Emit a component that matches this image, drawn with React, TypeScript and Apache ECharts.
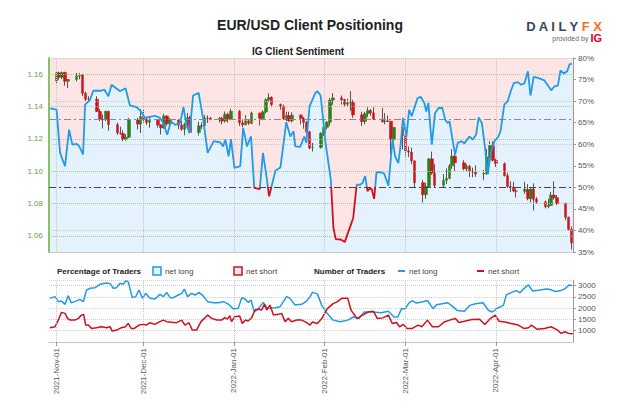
import React, { useEffect, useRef } from 'react';
import * as echarts from 'echarts';

// ---------- data ----------
// EUR/USD daily candles: [date, open, close, low, high]
const candles: [string, number, number, number, number][] = [
  ['2021-11-01', 1.1558, 1.1608, 1.1545, 1.1617], ['2021-11-02', 1.1608, 1.1581, 1.1565, 1.1616],
  ['2021-11-03', 1.1581, 1.1610, 1.1570, 1.1616], ['2021-11-04', 1.1610, 1.1556, 1.1529, 1.1615],
  ['2021-11-05', 1.1556, 1.1567, 1.1514, 1.1570], ['2021-11-08', 1.1567, 1.1588, 1.1555, 1.1608],
  ['2021-11-09', 1.1588, 1.1594, 1.1568, 1.1608], ['2021-11-10', 1.1594, 1.1481, 1.1464, 1.1600],
  ['2021-11-11', 1.1481, 1.1445, 1.1433, 1.1492], ['2021-11-12', 1.1445, 1.1445, 1.1432, 1.1464],
  ['2021-11-15', 1.1445, 1.1369, 1.1366, 1.1464], ['2021-11-16', 1.1369, 1.1320, 1.1310, 1.1385],
  ['2021-11-17', 1.1320, 1.1319, 1.1264, 1.1350], ['2021-11-18', 1.1319, 1.1370, 1.1310, 1.1374],
  ['2021-11-19', 1.1370, 1.1288, 1.1250, 1.1374], ['2021-11-22', 1.1288, 1.1236, 1.1225, 1.1300],
  ['2021-11-23', 1.1236, 1.1233, 1.1226, 1.1275], ['2021-11-24', 1.1233, 1.1197, 1.1186, 1.1253],
  ['2021-11-25', 1.1197, 1.1210, 1.1187, 1.1229], ['2021-11-26', 1.1210, 1.1317, 1.1204, 1.1330],
  ['2021-11-29', 1.1317, 1.1291, 1.1258, 1.1330], ['2021-11-30', 1.1291, 1.1338, 1.1236, 1.1383],
  ['2021-12-01', 1.1338, 1.1321, 1.1300, 1.1382], ['2021-12-02', 1.1321, 1.1302, 1.1285, 1.1336],
  ['2021-12-03', 1.1302, 1.1315, 1.1269, 1.1330], ['2021-12-06', 1.1315, 1.1285, 1.1270, 1.1320],
  ['2021-12-07', 1.1285, 1.1268, 1.1227, 1.1291], ['2021-12-08', 1.1268, 1.1341, 1.1262, 1.1355],
  ['2021-12-09', 1.1341, 1.1293, 1.1281, 1.1346], ['2021-12-10', 1.1293, 1.1316, 1.1262, 1.1330],
  ['2021-12-13', 1.1316, 1.1285, 1.1260, 1.1320], ['2021-12-14', 1.1285, 1.1259, 1.1250, 1.1311],
  ['2021-12-15', 1.1259, 1.1289, 1.1222, 1.1300], ['2021-12-16', 1.1289, 1.1330, 1.1280, 1.1360],
  ['2021-12-17', 1.1330, 1.1240, 1.1235, 1.1342], ['2021-12-20', 1.1240, 1.1281, 1.1221, 1.1306],
  ['2021-12-21', 1.1281, 1.1280, 1.1262, 1.1301], ['2021-12-22', 1.1280, 1.1329, 1.1270, 1.1347],
  ['2021-12-23', 1.1329, 1.1327, 1.1298, 1.1345], ['2021-12-24', 1.1327, 1.1320, 1.1315, 1.1335],
  ['2021-12-27', 1.1320, 1.1327, 1.1300, 1.1336], ['2021-12-28', 1.1327, 1.1310, 1.1289, 1.1337],
  ['2021-12-29', 1.1310, 1.1351, 1.1300, 1.1369], ['2021-12-30', 1.1351, 1.1323, 1.1300, 1.1362],
  ['2021-12-31', 1.1323, 1.1370, 1.1315, 1.1386],
  ['2022-01-03', 1.1370, 1.1299, 1.1280, 1.1378], ['2022-01-04', 1.1299, 1.1286, 1.1272, 1.1320],
  ['2022-01-05', 1.1286, 1.1311, 1.1285, 1.1346], ['2022-01-06', 1.1311, 1.1296, 1.1286, 1.1320],
  ['2022-01-07', 1.1296, 1.1360, 1.1290, 1.1368], ['2022-01-10', 1.1360, 1.1326, 1.1283, 1.1362],
  ['2022-01-11', 1.1326, 1.1367, 1.1315, 1.1375], ['2022-01-12', 1.1367, 1.1442, 1.1357, 1.1450],
  ['2022-01-13', 1.1442, 1.1456, 1.1430, 1.1482], ['2022-01-14', 1.1456, 1.1412, 1.1395, 1.1463],
  ['2022-01-17', 1.1412, 1.1400, 1.1380, 1.1418], ['2022-01-18', 1.1400, 1.1325, 1.1318, 1.1412],
  ['2022-01-19', 1.1325, 1.1344, 1.1310, 1.1367], ['2022-01-20', 1.1344, 1.1311, 1.1305, 1.1368],
  ['2022-01-21', 1.1311, 1.1346, 1.1301, 1.1364], ['2022-01-24', 1.1346, 1.1326, 1.1290, 1.1352],
  ['2022-01-25', 1.1326, 1.1302, 1.1262, 1.1335], ['2022-01-26', 1.1302, 1.1243, 1.1235, 1.1310],
  ['2022-01-27', 1.1243, 1.1144, 1.1135, 1.1250], ['2022-01-28', 1.1144, 1.1146, 1.1121, 1.1175],
  ['2022-01-31', 1.1146, 1.1235, 1.1140, 1.1240],
  ['2022-02-01', 1.1235, 1.1271, 1.1219, 1.1279], ['2022-02-02', 1.1271, 1.1303, 1.1258, 1.1310],
  ['2022-02-03', 1.1303, 1.1440, 1.1280, 1.1452], ['2022-02-04', 1.1440, 1.1453, 1.1410, 1.1483],
  ['2022-02-07', 1.1453, 1.1442, 1.1412, 1.1468], ['2022-02-08', 1.1442, 1.1414, 1.1401, 1.1448],
  ['2022-02-09', 1.1414, 1.1424, 1.1400, 1.1448], ['2022-02-10', 1.1424, 1.1425, 1.1374, 1.1495],
  ['2022-02-11', 1.1425, 1.1348, 1.1330, 1.1441], ['2022-02-14', 1.1348, 1.1307, 1.1280, 1.1368],
  ['2022-02-15', 1.1307, 1.1356, 1.1290, 1.1367], ['2022-02-16', 1.1356, 1.1375, 1.1335, 1.1395],
  ['2022-02-17', 1.1375, 1.1361, 1.1343, 1.1384], ['2022-02-18', 1.1361, 1.1322, 1.1316, 1.1395],
  ['2022-02-21', 1.1322, 1.1307, 1.1300, 1.1391], ['2022-02-22', 1.1307, 1.1310, 1.1290, 1.1359],
  ['2022-02-23', 1.1310, 1.1309, 1.1305, 1.1344], ['2022-02-24', 1.1309, 1.1195, 1.1106, 1.1274],
  ['2022-02-25', 1.1195, 1.1270, 1.1183, 1.1274], ['2022-02-28', 1.1270, 1.1220, 1.1134, 1.1245],
  ['2022-03-01', 1.1220, 1.1125, 1.1090, 1.1233], ['2022-03-02', 1.1125, 1.1118, 1.1088, 1.1153],
  ['2022-03-03', 1.1118, 1.1064, 1.1043, 1.1145], ['2022-03-04', 1.1064, 1.0929, 1.0900, 1.1065],
  ['2022-03-07', 1.0929, 1.0855, 1.0806, 1.0945], ['2022-03-08', 1.0855, 1.0905, 1.0830, 1.0927],
  ['2022-03-09', 1.0905, 1.1076, 1.0900, 1.1081], ['2022-03-10', 1.1076, 1.0988, 1.0977, 1.1121],
  ['2022-03-11', 1.0988, 1.0912, 1.0900, 1.1043], ['2022-03-14', 1.0912, 1.0943, 1.0901, 1.0982],
  ['2022-03-15', 1.0943, 1.0956, 1.0920, 1.1017], ['2022-03-16', 1.0956, 1.1033, 1.0950, 1.1043],
  ['2022-03-17', 1.1033, 1.1093, 1.1015, 1.1137], ['2022-03-18', 1.1093, 1.1052, 1.1002, 1.1113],
  ['2022-03-21', 1.1052, 1.1015, 1.1005, 1.1068], ['2022-03-22', 1.1015, 1.1030, 1.1000, 1.1045],
  ['2022-03-23', 1.1030, 1.1000, 1.0964, 1.1040], ['2022-03-24', 1.1000, 1.0995, 1.0962, 1.1022],
  ['2022-03-25', 1.0995, 1.0983, 1.0965, 1.1036], ['2022-03-28', 1.0983, 1.0985, 1.0944, 1.1008],
  ['2022-03-29', 1.0985, 1.1088, 1.0980, 1.1137], ['2022-03-30', 1.1088, 1.1158, 1.1080, 1.1185],
  ['2022-03-31', 1.1158, 1.1067, 1.1061, 1.1184],
  ['2022-04-01', 1.1067, 1.1046, 1.1026, 1.1077], ['2022-04-04', 1.1046, 1.0972, 1.0968, 1.1054],
  ['2022-04-05', 1.0972, 1.0904, 1.0899, 1.0990], ['2022-04-06', 1.0904, 1.0902, 1.0871, 1.0937],
  ['2022-04-07', 1.0902, 1.0878, 1.0870, 1.0935], ['2022-04-08', 1.0878, 1.0876, 1.0837, 1.0893],
  ['2022-04-11', 1.0876, 1.0887, 1.0860, 1.0935], ['2022-04-12', 1.0887, 1.0830, 1.0820, 1.0920],
  ['2022-04-13', 1.0830, 1.0890, 1.0808, 1.0895], ['2022-04-14', 1.0890, 1.0826, 1.0757, 1.0925],
  ['2022-04-15', 1.0826, 1.0810, 1.0800, 1.0840], ['2022-04-18', 1.0810, 1.0780, 1.0770, 1.0818],
  ['2022-04-19', 1.0780, 1.0788, 1.0770, 1.0828], ['2022-04-20', 1.0788, 1.0852, 1.0785, 1.0872],
  ['2022-04-21', 1.0852, 1.0836, 1.0824, 1.0936], ['2022-04-22', 1.0836, 1.0799, 1.0790, 1.0852],
  ['2022-04-25', 1.0799, 1.0715, 1.0697, 1.0806], ['2022-04-26', 1.0715, 1.0640, 1.0634, 1.0719],
  ['2022-04-27', 1.0640, 1.0556, 1.0515, 1.0658],
];

// % of traders net long: [days since 2021-11-01, percent]
const netLongPct: [number, number][] = [
  [-2.1, 68.3], [0.1, 68.0], [1.3, 58.0], [3.0, 54.9], [4.4, 63.4], [5.5, 59.9], [7.0, 60.1], [7.9, 59.5],
  [9.2, 57.6], [9.9, 69.2], [11.6, 70.3], [12.7, 72.4], [15.5, 72.4], [16.5, 72.7], [17.9, 71.1], [19.0, 73.8],
  [21.9, 72.3], [23.8, 73.0], [25.3, 69.0], [27.6, 68.6], [29.1, 67.6], [30.5, 66.1], [31.6, 66.3], [33.9, 66.6],
  [35.6, 66.1], [36.8, 64.9], [38.1, 62.2], [39.4, 65.3], [40.8, 64.5], [42.5, 64.9], [43.7, 68.6], [44.7, 64.5],
  [45.8, 62.6], [47.0, 71.3], [48.9, 71.9], [50.4, 66.1], [52.0, 58.0], [54.1, 60.7], [56.4, 60.4], [57.3, 59.5],
  [58.1, 61.1], [59.2, 57.2], [60.0, 61.2], [61.2, 54.5], [63.2, 54.9], [64.2, 63.8], [65.5, 59.5], [66.9, 61.8],
  [68.0, 49.9], [69.9, 49.6], [71.0, 58.0], [72.2, 52.6], [73.1, 47.9], [75.3, 53.9], [77.0, 54.6], [79.0, 65.1],
  [80.4, 61.8], [81.5, 63.0], [82.1, 59.5], [83.8, 59.4], [85.2, 61.8], [85.9, 60.3], [87.0, 68.8], [89.0, 71.9],
  [89.7, 72.3], [90.8, 71.3], [92.5, 60.3], [94.3, 51.8], [95.2, 40.6], [96.0, 38.0], [97.7, 37.9], [99.1, 37.3],
  [100.6, 40.2], [102.0, 42.9], [103.2, 50.6], [104.4, 50.6], [105.2, 51.0], [106.1, 52.6], [106.9, 49.1], [107.8, 49.8],
  [108.4, 49.5], [109.2, 47.3], [110.0, 53.5], [111.4, 53.5], [112.6, 53.2], [114.1, 50.4], [115.5, 61.1], [116.4, 57.2],
  [117.5, 55.6], [118.3, 59.9], [119.1, 66.1], [120.3, 61.8], [121.2, 68.0], [122.1, 66.5], [124.1, 70.7], [125.2, 71.0],
  [126.4, 69.6], [127.1, 67.6], [127.8, 69.6], [129.0, 59.9], [130.1, 67.2], [131.3, 68.4], [132.6, 68.4], [133.6, 65.7],
  [134.4, 64.9], [135.1, 65.3], [136.2, 60.7], [137.0, 57.6], [137.9, 60.3], [139.1, 60.7], [140.2, 60.2], [141.9, 61.8],
  [143.1, 61.1], [144.2, 62.2], [145.1, 66.2], [146.2, 64.9], [147.3, 59.1], [148.2, 53.0], [149.4, 58.4], [150.5, 60.7],
  [151.9, 61.8], [152.6, 63.0], [153.9, 69.2], [155.1, 70.0], [156.3, 72.7], [157.2, 74.2], [158.5, 74.4], [159.7, 73.8],
  [160.8, 74.1], [162.0, 76.9], [162.9, 71.3], [164.0, 75.6], [165.4, 75.4], [167.7, 74.8], [170.0, 72.5], [171.1, 73.4],
  [172.3, 73.6], [173.2, 77.1], [174.3, 76.4], [175.5, 76.9], [176.3, 78.5], [177.1, 78.7],
];

// Number of traders net long: [days since 2021-11-01, count]
const tradersLong: [number, number][] = [
  [-2.2, 2436], [-0.4, 2512], [0.7, 2290], [1.8, 2316], [3.0, 2170], [4.1, 2556], [5.1, 2245], [6.4, 2290],
  [8.1, 2392], [9.3, 2290], [10.4, 2805], [11.6, 2880], [13.3, 2911], [15.0, 3058], [17.3, 3115], [18.5, 3089],
  [19.6, 2880], [20.7, 2911], [21.9, 3102], [23.0, 3058], [23.8, 3204], [24.7, 3178], [26.1, 2467], [27.3, 2512],
  [28.4, 2805], [29.6, 2436], [30.7, 2658], [32.2, 2436], [33.9, 2405], [35.6, 2614], [36.8, 2512], [37.9, 2703],
  [39.1, 2467], [40.2, 2467], [41.9, 2583], [43.1, 2658], [44.0, 2849], [45.1, 2512], [46.5, 2658], [47.7, 2583],
  [49.0, 2703], [50.2, 2583], [52.0, 2290], [54.0, 2245], [55.7, 2245], [57.4, 2290], [59.1, 2183], [60.8, 1961],
  [62.5, 1992], [63.7, 2467], [64.8, 2405], [66.0, 2259], [66.9, 2361], [68.0, 1846], [69.4, 1961], [71.1, 2259],
  [72.3, 2023], [73.4, 1992], [75.2, 2023], [76.9, 2068], [78.0, 2290], [79.1, 2512], [80.3, 2436], [82.0, 2139],
  [84.3, 2170], [86.0, 2316], [87.2, 2512], [88.0, 2700], [89.7, 2635], [91.2, 2125], [93.1, 1760], [95.1, 1470],
  [97.6, 1400], [100.1, 1470], [102.1, 1610], [104.0, 1540], [105.8, 1830], [108.4, 1830], [111.6, 1800], [114.1, 1860],
  [116.0, 1610], [117.3, 1610], [118.6, 1980], [119.9, 1980], [121.1, 2225], [122.3, 2340], [123.7, 2225], [125.6, 2270],
  [127.5, 2340], [129.4, 1980], [130.6, 2150], [132.6, 2200], [134.5, 2240], [135.7, 2125], [137.7, 1900], [140.2, 1860],
  [142.1, 2125], [144.0, 2200], [146.6, 2240], [148.5, 1900], [149.8, 1830], [151.7, 2010], [153.6, 2125], [154.6, 2590],
  [156.4, 2700], [158.1, 2780], [159.3, 2680], [160.5, 2855], [162.2, 3030], [163.6, 2765], [166.3, 2810], [168.2, 2855],
  [169.8, 2825], [171.4, 2740], [173.3, 2780], [174.9, 2880], [176.1, 3030], [177.3, 3000],
];

// Number of traders net short: [days since 2021-11-01, count]
const tradersShort: [number, number][] = [
  [-2.2, 1135], [-0.4, 1180], [0.7, 1473], [1.8, 1815], [3.0, 1770], [3.9, 1548], [4.7, 1473], [6.4, 1473],
  [7.6, 1548], [8.7, 1695], [9.4, 1726], [10.1, 1251], [11.0, 1251], [12.1, 1104], [13.8, 1135], [15.6, 1180],
  [17.3, 1135], [18.5, 1180], [19.2, 984], [20.7, 1029], [22.4, 1135], [23.8, 1180], [24.7, 1326], [25.7, 1104],
  [26.8, 1104], [28.4, 1251], [29.9, 1282], [31.0, 1251], [32.2, 1357], [33.9, 1282], [35.6, 1402], [36.8, 1473],
  [37.9, 1402], [39.6, 1371], [41.3, 1357], [43.1, 1473], [44.2, 1251], [45.6, 1357], [46.7, 1029], [48.2, 1029],
  [49.7, 1402], [50.9, 1548], [52.0, 1695], [53.4, 1548], [55.1, 1473], [56.8, 1473], [57.9, 1579], [58.8, 1517],
  [59.6, 1668], [60.2, 1402], [61.3, 1624], [63.0, 1650], [63.9, 1326], [65.0, 1473], [65.9, 1428], [67.1, 1579],
  [68.3, 1917], [69.4, 1961], [70.5, 1917], [71.5, 2170], [72.3, 1917], [73.4, 2139], [74.6, 1695], [76.3, 1726],
  [77.4, 1770], [78.6, 1402], [79.7, 1548], [80.8, 1402], [82.6, 1473], [84.3, 1473], [85.4, 1402], [87.2, 1251],
  [88.0, 1390], [89.7, 1320], [91.2, 1540], [93.1, 1980], [95.1, 2200], [96.3, 2270], [98.2, 2445], [100.1, 2445],
  [101.3, 1900], [103.3, 1540], [105.2, 1690], [107.1, 1830], [109.0, 1860], [110.3, 1540], [112.2, 1570], [114.1, 1690],
  [115.4, 1320], [116.9, 1365], [117.9, 1175], [119.2, 1280], [120.5, 1100], [122.3, 1100], [124.3, 1250], [125.6, 1175],
  [127.5, 1470], [129.2, 1175], [131.3, 1175], [133.3, 1390], [135.1, 1470], [137.1, 1540], [138.3, 1365], [140.2, 1420],
  [142.8, 1500], [145.4, 1510], [147.2, 1280], [149.1, 1540], [150.8, 1690], [152.1, 1420], [154.2, 1390], [156.2, 1320],
  [158.7, 1250], [160.6, 1100], [162.2, 1130], [163.2, 1250], [165.1, 1070], [167.7, 1100], [170.0, 1175], [172.2, 1030],
  [173.4, 880], [174.7, 955], [176.0, 880], [177.4, 870],
];

const monthStarts = ['2021-11-01', '2021-12-01', '2022-01-01', '2022-02-01', '2022-03-01', '2022-04-01'];
const priceTicks = [1.06, 1.08, 1.1, 1.12, 1.14, 1.16];
const pctGridLevels = [40, 60, 70, 80];
const neutralPct = 50;
const avgLongPct = 65.9;
const pctRange: [number, number] = [35, 80];
const xRangeDays: [number, number] = [-2.5, 177.5];

// ---------- helpers ----------
const MON = ['Jan', 'Feb', 'Mar', 'Apr', 'May', 'Jun', 'Jul', 'Aug', 'Sep', 'Oct', 'Nov', 'Dec'];
const dateTs = (s: string) => {
  const [y, m, d] = s.split('-').map(Number);
  return new Date(y, m - 1, d).getTime();
};
const T0 = dateTs('2021-11-01');
const dayTs = (d: number) => T0 + d * 86400000;
const fmtDate = (v: number) => {
  const d = new Date(v);
  return `${d.getFullYear()}-${MON[d.getMonth()]}-${String(d.getDate()).padStart(2, '0')}`;
};

const BLUE = '#1e9be9';
const RED = '#d30f1f';
const UP = '#2f7d1c';
const DOWN = '#d0141c';
const FONT = 'Liberation Sans, Arial, sans-serif';

export default function App() {
  const ref = useRef<HTMLDivElement>(null);

  useEffect(() => {
    if (!ref.current) return;
    const chart = echarts.init(ref.current, undefined, { renderer: 'svg' });
    const monthTs = monthStarts.map(dateTs);
    const monthSet = new Set(monthTs.map(String));
    const xMin = dayTs(xRangeDays[0]);
    const xMax = dayTs(xRangeDays[1]);

    // half-day category slots spanning the x range (used only for the date labels / ticks)
    const slots: string[] = [];
    for (let d = xRangeDays[0]; d <= xRangeDays[1] + 1e-9; d += 0.5) slots.push(String(dayTs(d)));
    const isMonthSlot = (_i: number, v: string) => monthSet.has(v);

    const wickData = candles.map(([d, o, c, l, h]) => [dateTs(d), o, c, l, h]);
    const bodyData = candles.map(([d, o, c]) => [dateTs(d), o, c, Math.min(o, c), Math.max(o, c)]);
    const sentData = netLongPct.map(([d, v]) => [dayTs(d), v]);
    const longData = tradersLong.map(([d, v]) => [dayTs(d), v]);
    const shortData = tradersShort.map(([d, v]) => [dayTs(d), v]);

    const dotted = (color: string) => ({ color, type: 'dotted' as const, width: 1 });
    const hiddenX = (grid: number) => ({
      type: 'value', gridIndex: grid, min: xMin, max: xMax,
      axisLabel: { show: false }, axisTick: { show: false },
      axisLine: { show: grid === 0, onZero: false, lineStyle: dotted('#b9c4ad') }, splitLine: { show: false },
    });

    const option: any = {
      animation: false,
      backgroundColor: '#ffffff',
      textStyle: { fontFamily: FONT },
      grid: [
        { left: 49, right: 52, top: 58, height: 194, show: true, backgroundColor: '#fde5e5', borderWidth: 0 },
        { left: 49, right: 52, top: 280, height: 62 },
      ],
      xAxis: [
        hiddenX(0),
        hiddenX(1),
        {
          type: 'category', gridIndex: 1, data: slots, boundaryGap: false, position: 'bottom',
          axisLabel: {
            interval: isMonthSlot, rotate: 90, fontSize: 8, color: '#555', margin: 6,
            formatter: (v: string) => fmtDate(Number(v)), fontFamily: FONT,
          },
          axisTick: { show: true, interval: isMonthSlot, length: 4, lineStyle: { color: '#999' } },
          axisLine: { show: true, onZero: false, lineStyle: dotted('#bbb') }, splitLine: { show: false },
        },
      ],
      yAxis: [
        {
          type: 'value', gridIndex: 0, position: 'left', min: 1.05, max: 1.17, interval: 0.01,
          axisLine: { show: true, onZero: false, lineStyle: { color: '#8bbd6a', width: 2 } },
          axisTick: { show: false },
          axisLabel: {
            formatter: (v: number) => {
              const k = Math.round(v * 100);
              return k % 2 === 0 && k >= 106 && k <= 116 ? v.toFixed(2) : '';
            },
            color: '#6a9f3a', fontSize: 8, margin: 6, fontFamily: FONT,
          },
          splitLine: { show: false },
        },
        {
          type: 'value', gridIndex: 0, position: 'right', min: pctRange[0], max: pctRange[1], interval: 5,
          axisLine: { show: true, onZero: false, lineStyle: { color: '#999' } },
          axisTick: { show: true, length: 3, lineStyle: { color: '#999' } },
          axisLabel: { formatter: '{value}%', color: '#555', fontSize: 8, margin: 5, fontFamily: FONT },
          splitLine: { show: false },
        },
        {
          type: 'value', gridIndex: 1, position: 'right', min: 500, max: 3250, interval: 500,
          axisLine: { show: true, onZero: false, lineStyle: { color: '#999' } },
          axisTick: { show: true, length: 3, lineStyle: { color: '#999' } },
          axisLabel: {
            showMinLabel: false, showMaxLabel: false, color: '#555', fontSize: 8, margin: 5, fontFamily: FONT,
            formatter: (v: number) => String(Math.round(v)),
          },
          splitLine: { show: true, lineStyle: dotted('#cfcfcf') },
        },
      ],
      series: [
        {
          name: 'areaLong', type: 'line', xAxisIndex: 0, yAxisIndex: 1, data: sentData,
          symbol: 'none', silent: true, z: 1,
          lineStyle: { width: 0 }, areaStyle: { color: '#e4f2fd', opacity: 1 },
          markLine: {
            silent: true, symbol: ['none', 'none'], label: { show: false },
            data: [
              ...monthTs.map((t) => ({ xAxis: t, lineStyle: dotted('#c4c4c4') })),
              ...pctGridLevels.map((p) => ({ yAxis: p, lineStyle: dotted('#c9c9c9') })),
              { yAxis: avgLongPct, lineStyle: { color: '#8a8a8a', type: [7, 3, 2, 3], width: 1 } },
              { yAxis: neutralPct, lineStyle: { color: '#444', type: [7, 3, 2, 3], width: 1.2 } },
            ],
          },
        },
        {
          name: 'wicks', type: 'candlestick', xAxisIndex: 0, yAxisIndex: 0, data: wickData,
          barWidth: 1, silent: true, z: 3,
          itemStyle: { color: '#555', color0: '#555', borderColor: '#555', borderColor0: '#555', borderWidth: 1 },
          markLine: {
            silent: true, symbol: ['none', 'none'], label: { show: false },
            data: priceTicks.map((p) => ({ yAxis: p, lineStyle: dotted('#a9c98c') })),
          },
        },
        {
          name: 'bodies', type: 'candlestick', xAxisIndex: 0, yAxisIndex: 0, data: bodyData,
          barWidth: 3, silent: true, z: 4,
          itemStyle: { color: UP, color0: DOWN, borderColor: UP, borderColor0: DOWN, borderWidth: 0.5 },
        },
        {
          id: 'netLongPct', name: 'netLongPct', type: 'line', xAxisIndex: 0, yAxisIndex: 1, data: sentData,
          symbol: 'none', silent: true, z: 5, lineStyle: { width: 1.8, color: BLUE },
        },
        {
          name: 'tradersLong', type: 'line', xAxisIndex: 1, yAxisIndex: 2, data: longData,
          symbol: 'none', silent: true, z: 3, lineStyle: { width: 1.5, color: BLUE }, itemStyle: { color: BLUE },
          markLine: {
            silent: true, symbol: ['none', 'none'], label: { show: false },
            data: monthTs.map((t) => ({ xAxis: t, lineStyle: dotted('#c4c4c4') })),
          },
        },
        {
          name: 'tradersShort', type: 'line', xAxisIndex: 1, yAxisIndex: 2, data: shortData,
          symbol: 'none', silent: true, z: 3, lineStyle: { width: 1.5, color: RED }, itemStyle: { color: RED },
        },
      ],
      graphic: [
        {
          type: 'text', x: 310, y: 25,
          style: { text: 'EUR/USD Client Positioning', fontSize: 14, fontWeight: 'bold', fill: '#222', align: 'center', verticalAlign: 'middle', fontFamily: FONT },
        },
        {
          type: 'text', x: 298, y: 51,
          style: { text: 'IG Client Sentiment', fontSize: 10, fontWeight: 'bold', fill: '#222', align: 'center', verticalAlign: 'middle', fontFamily: FONT },
        },
        {
          type: 'text', x: 602, y: 26,
          style: {
            text: '{d|D A I L Y}{f| F X}', align: 'right', verticalAlign: 'middle',
            rich: {
              d: { fontSize: 13, fontWeight: 'bold', fill: '#3c4757', fontFamily: FONT },
              f: { fontSize: 13, fontWeight: 'bold', fill: '#f37021', fontFamily: FONT },
            },
          },
        },
        {
          type: 'text', x: 602, y: 38,
          style: {
            text: '{p|provided by }{g|IG}', align: 'right', verticalAlign: 'middle',
            rich: {
              p: { fontSize: 7, fill: '#666', fontFamily: FONT },
              g: { fontSize: 11, fontWeight: 'bold', fill: '#e3001b', fontFamily: FONT },
            },
          },
        },
        { type: 'text', x: 57, y: 271, style: { text: 'Percentage of Traders', fontSize: 8, fontWeight: 'bold', fill: '#222', verticalAlign: 'middle', fontFamily: FONT } },
        { type: 'rect', shape: { x: 153, y: 267, width: 8, height: 8 }, style: { fill: '#e4f2fd', stroke: BLUE, lineWidth: 1.5 } },
        { type: 'text', x: 165, y: 271, style: { text: 'net long', fontSize: 8, fill: '#444', verticalAlign: 'middle', fontFamily: FONT } },
        { type: 'rect', shape: { x: 234, y: 267, width: 8, height: 8 }, style: { fill: '#fde5e5', stroke: RED, lineWidth: 1.5 } },
        { type: 'text', x: 246, y: 271, style: { text: 'net short', fontSize: 8, fill: '#444', verticalAlign: 'middle', fontFamily: FONT } },
        { type: 'text', x: 314, y: 271, style: { text: 'Number of Traders', fontSize: 8, fontWeight: 'bold', fill: '#222', verticalAlign: 'middle', fontFamily: FONT } },
        { type: 'line', shape: { x1: 398, y1: 271, x2: 405, y2: 271 }, style: { stroke: BLUE, lineWidth: 2 } },
        { type: 'text', x: 409, y: 271, style: { text: 'net long', fontSize: 8, fill: '#444', verticalAlign: 'middle', fontFamily: FONT } },
        { type: 'line', shape: { x1: 477, y1: 271, x2: 484, y2: 271 }, style: { stroke: RED, lineWidth: 2 } },
        { type: 'text', x: 488, y: 271, style: { text: 'net short', fontSize: 8, fill: '#444', verticalAlign: 'middle', fontFamily: FONT } },
      ],
    };

    chart.setOption(option);

    // colour the sentiment line red below the 50% line, blue above, using the axis scale
    try {
      const yTop = chart.convertToPixel({ yAxisIndex: 1 }, pctRange[1]) as number;
      const yBot = chart.convertToPixel({ yAxisIndex: 1 }, pctRange[0]) as number;
      const yMid = chart.convertToPixel({ yAxisIndex: 1 }, neutralPct) as number;
      const t = (yMid - yTop) / (yBot - yTop);
      const grad = new echarts.graphic.LinearGradient(0, yTop, 0, yBot, [
        { offset: 0, color: BLUE }, { offset: t, color: BLUE },
        { offset: t, color: RED }, { offset: 1, color: RED },
      ], true);
      chart.setOption({ series: [{ id: 'netLongPct', lineStyle: { color: grad } }] });
    } catch (e) {
      // keep the plain blue line
    }

    return () => chart.dispose();
  }, []);

  return (
    <div
      ref={ref}
      style={{ position: 'fixed', left: 0, top: 0, width: 625, height: 417, background: '#fff' }}
    />
  );
}
